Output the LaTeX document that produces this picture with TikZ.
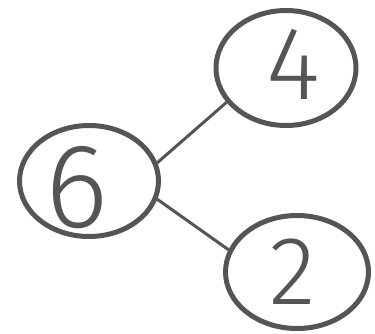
\documentclass[tikz,border=0pt]{standalone}
\usepackage{fontspec}
\newfontfamily\digitfont{Fira Sans Light}
\usetikzlibrary{shapes.geometric}
\definecolor{ink}{HTML}{555555}
\tikzset{
  bubble/.style={draw=ink, line width=5pt, ellipse, inner sep=0pt},
  bond/.style={draw=ink, line width=3pt},
  numtext/.style={text=ink, inner sep=0pt, font=\digitfont}
}
\begin{document}
\begin{tikzpicture}[x=1pt,y=1pt]
\useasboundingbox (0,0) rectangle (375,333);
\node[bubble, minimum width=140pt, minimum height=115pt] (four) at (286,265) {};
\node[bubble, minimum width=139pt, minimum height=111pt] (six) at (89,152) {};
\node[bubble, minimum width=143pt, minimum height=113pt] (two) at (297,61) {};
\draw[bond] (six.15) -- (four.210);
\draw[bond] (six.-15) -- (two.162);
\node[numtext, font=\digitfont\fontsize{104}{104}\selectfont] (t4) at (293,269) {4};
\node[numtext, font=\digitfont\fontsize{120}{120}\selectfont] (t6) at (77,145) {6};
\node[numtext, font=\digitfont\fontsize{97}{97}\selectfont] (t2) at (293,61) {2};
\end{tikzpicture}
\end{document}
